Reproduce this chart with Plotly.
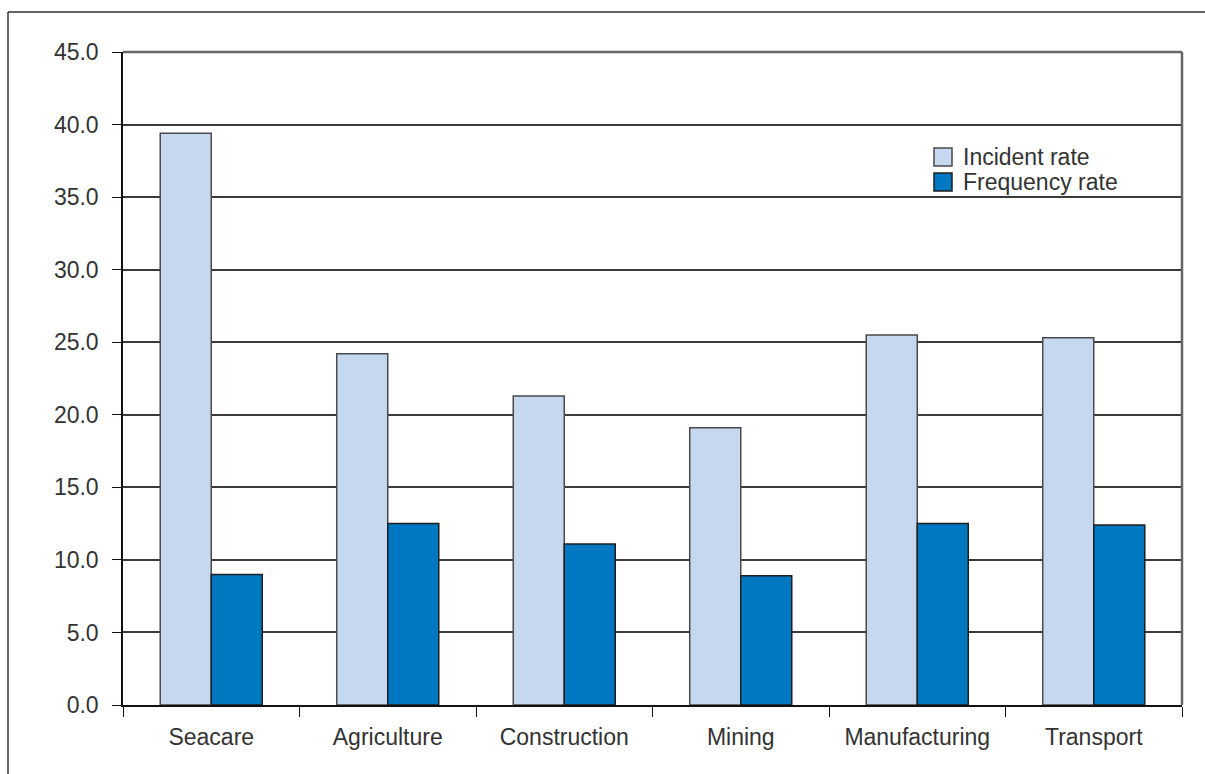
import plotly.graph_objects as go

categories = ["Seacare", "Agriculture", "Construction", "Mining", "Manufacturing", "Transport"]
incident_rate = [39.4, 24.2, 21.3, 19.1, 25.5, 25.3]
frequency_rate = [9.0, 12.5, 11.1, 8.9, 12.5, 12.4]
series_names = ["Incident rate", "Frequency rate"]
y_ticks = [0, 5, 10, 15, 20, 25, 30, 35, 40, 45]

W, H = 1205, 774
L, R, T, B = 123, 23, 52, 69
PW, PH = W - L - R, H - T - B

def px(x):
    return (x - L) / PW

def py(y):
    return (H - B - y) / PH

LIGHT = "#c6d8ef"
DARK = "#0077c1"
FONT = "Liberation Sans, Arial, sans-serif"
TXT = "#333333"
FS = 23

fig = go.Figure()
fig.add_bar(x=categories, y=incident_rate, name=series_names[0],
            marker=dict(color=LIGHT, line=dict(color="#4a4a4a", width=1.5)))
fig.add_bar(x=categories, y=frequency_rate, name=series_names[1],
            marker=dict(color=DARK, line=dict(color="#1e1e1e", width=1.5)))

fig.update_layout(
    width=W, height=H,
    margin=dict(l=L, r=R, t=T, b=B, pad=0),
    paper_bgcolor="white", plot_bgcolor="white",
    barmode="group", bargap=0.422, bargroupgap=0,
    showlegend=False,
    font=dict(family=FONT, size=FS, color=TXT),
)
fig.update_yaxes(
    range=[0, 45], tickvals=y_ticks, tickformat=".1f",
    showgrid=True, gridcolor="#3a3a3a", gridwidth=1.5,
    showline=True, linecolor="#111111", linewidth=1.5,
    ticks="outside", ticklen=9, tickcolor="#111111", tickwidth=1.2,
    ticklabelstandoff=9, zeroline=False,
    tickfont=dict(size=FS, color=TXT),
)
fig.update_xaxes(
    showline=True, linecolor="#111111", linewidth=1.5,
    ticks="outside", tickson="boundaries", ticklen=10,
    tickcolor="#111111", tickwidth=1.2,
    tickfont=dict(size=FS, color=TXT), ticklabelstandoff=11,
)

# plot frame top/right (gray)
fig.add_shape(type="line", xref="paper", yref="paper", x0=0, x1=1, y0=1, y1=1,
              line=dict(color="#666666", width=2.5), layer="above")
fig.add_shape(type="line", xref="paper", yref="paper", x0=1, x1=1, y0=0, y1=1,
              line=dict(color="#666666", width=2.5), layer="above")

# outer frame (top and left visible)
fig.add_shape(type="line", xref="paper", yref="paper", x0=px(8), x1=px(1210), y0=py(12), y1=py(12),
              line=dict(color="#333333", width=1.5))
fig.add_shape(type="line", xref="paper", yref="paper", x0=px(8), x1=px(8), y0=py(12), y1=py(780),
              line=dict(color="#333333", width=1.5))

# legend
legend_items = [(series_names[0], LIGHT, "#4a4a4a", 157), (series_names[1], DARK, "#1e1e1e", 182)]
for name, col, lc, cy in legend_items:
    fig.add_shape(type="rect", xref="paper", yref="paper",
                  x0=px(934), x1=px(952), y0=py(cy + 9), y1=py(cy - 9),
                  fillcolor=col, line=dict(color=lc, width=1.5))
    fig.add_annotation(text=name, xref="paper", yref="paper", x=px(961), y=py(cy),
                       xanchor="left", yanchor="middle", showarrow=False,
                       font=dict(size=FS, color=TXT, family=FONT))

fig.write_html("out.html")
